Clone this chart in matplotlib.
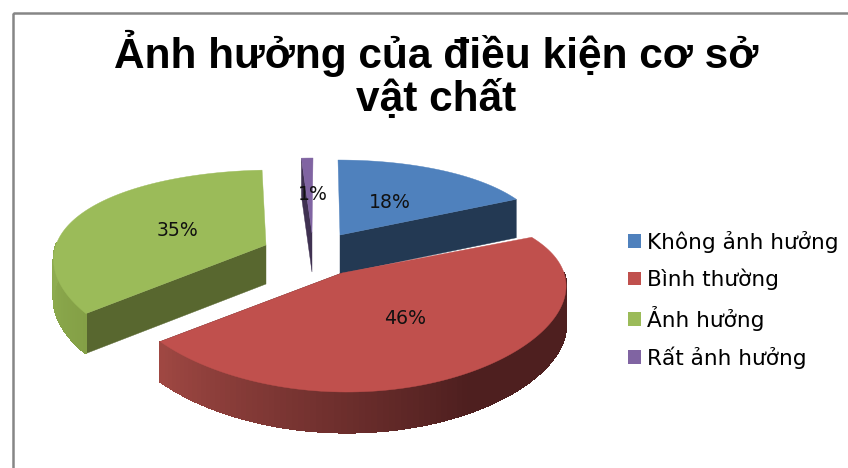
import numpy as np
import matplotlib
matplotlib.use("Agg")
import matplotlib.pyplot as plt
from matplotlib.patches import Polygon, Rectangle, Patch

title = "Ảnh hưởng của điều kiện cơ sở\nvật chất"
categories = ["Không ảnh hưởng", "Bình thường", "Ảnh hưởng", "Rất ảnh hưởng"]
values = [18, 46, 35, 1]
labels = ["18%", "46%", "35%", "1%"]
top_colors = ["#4F81BD", "#C0504D", "#9BBB59", "#8064A2"]
face_colors = ["#233953", "#4E1F1F", "#58672F", "#3F3151"]

# layout per slice: apex x, apex y, horizontal radius, back-lean
apex_x = [340, 342, 266, 312]
apex_y = [235, 273, 245, 233]
radius_x = [205, 222, 210, 205]
lean = [-2, -5, 8, 1]
label_xy = [(390, 202), (405, 318), (177, 230), (313, 195)]

K = 0.227
BY = 92
DEPTH = 39

fig = plt.figure(figsize=(8.48, 4.68), dpi=100, facecolor="white")
ax = fig.add_axes([0, 0, 1, 1])
ax.set_xlim(0, 848)
ax.set_ylim(468, 0)
ax.axis("off")

ax.add_patch(Rectangle((12.5, 12.5), 860, 480, fill=False, ec="#868686", lw=1.8, zorder=0))


def project(i, theta_deg, depth=0.0):
    t = np.radians(theta_deg)
    u, v = np.sin(t), np.cos(t)
    s = 1 / (1 + K * v)
    x = apex_x[i] + radius_x[i] * u * np.sqrt(s) + lean[i] * v
    y = apex_y[i] - BY * v * s + depth * s ** 0.15
    return x, y


def apex(i, depth=0.0):
    return apex_x[i], apex_y[i] + depth


def mix(c1, c2, t):
    a = np.array(matplotlib.colors.to_rgb(c1))
    b = np.array(matplotlib.colors.to_rgb(c2))
    return tuple(a + (b - a) * t)


edges = np.concatenate([[0], np.cumsum(values)]) * 3.6


def draw_slice(i, z):
    a0, a1 = edges[i], edges[i + 1]
    th = np.linspace(a0, a1, 120)
    # radial faces
    for ang in (a0, a1):
        p0 = apex(i)
        p1 = project(i, ang)
        p2 = project(i, ang, DEPTH)
        p3 = apex(i, DEPTH)
        visible = (i == 0 and ang == a1) or (i == 2 and ang == a0) or (i == 3 and ang == a0) \
            or (i == 1 and ang == a1)
        if visible:
            ax.add_patch(Polygon([p0, p1, p2, p3], fc=face_colors[i], ec=face_colors[i], lw=0.3, zorder=z))
    # outer curved wall, front part only (aliased strips so that no seams show)
    for t0, t1 in zip(th[:-1], th[1:]):
        if 90 <= (t0 + t1) / 2 <= 272:
            if i == 1:
                col = mix("#A04843", "#4E1F1F", np.clip((a1 - t0) / 80, 0, 1))
            elif i == 2:
                col = mix("#84A046", "#8FAD50", np.clip((t0 - a0) / 40, 0, 1))
            else:
                col = face_colors[i]
            q = [project(i, t0), project(i, t1), project(i, t1, DEPTH), project(i, t0, DEPTH)]
            ax.add_patch(Polygon(q, fc=col, ec=col, lw=0.8, antialiased=False, zorder=z))
    # top surface
    pts = [apex(i)] + [project(i, t) for t in th]
    ax.add_patch(Polygon(pts, fc=top_colors[i], ec=top_colors[i], lw=0.3, zorder=z + 0.5))


for order, i in enumerate([2, 3, 0, 1]):
    draw_slice(i, 2 + order)

for (x, y), lab in zip(label_xy, labels):
    ax.text(x, y, lab, ha="center", va="center", fontsize=13.6, family="DejaVu Sans",
            color="#111111", zorder=10)

ax.text(436, 75, title, ha="center", va="center", fontsize=30.5, fontweight="bold",
        family="Liberation Sans", color="black", linespacing=1.08, zorder=10)

handles = [Patch(fc=c, ec="none") for c in top_colors]
ax.legend(handles, categories, loc="upper left", bbox_to_anchor=(628 / 848, 1 - 231 / 468),
          frameon=False, prop={"family": "DejaVu Sans", "size": 15.6},
          handlelength=0.6, handleheight=0.6, handletextpad=0.28,
          labelspacing=0.72, borderpad=0, borderaxespad=0)

fig.savefig("out.png", dpi=100, facecolor="white")
